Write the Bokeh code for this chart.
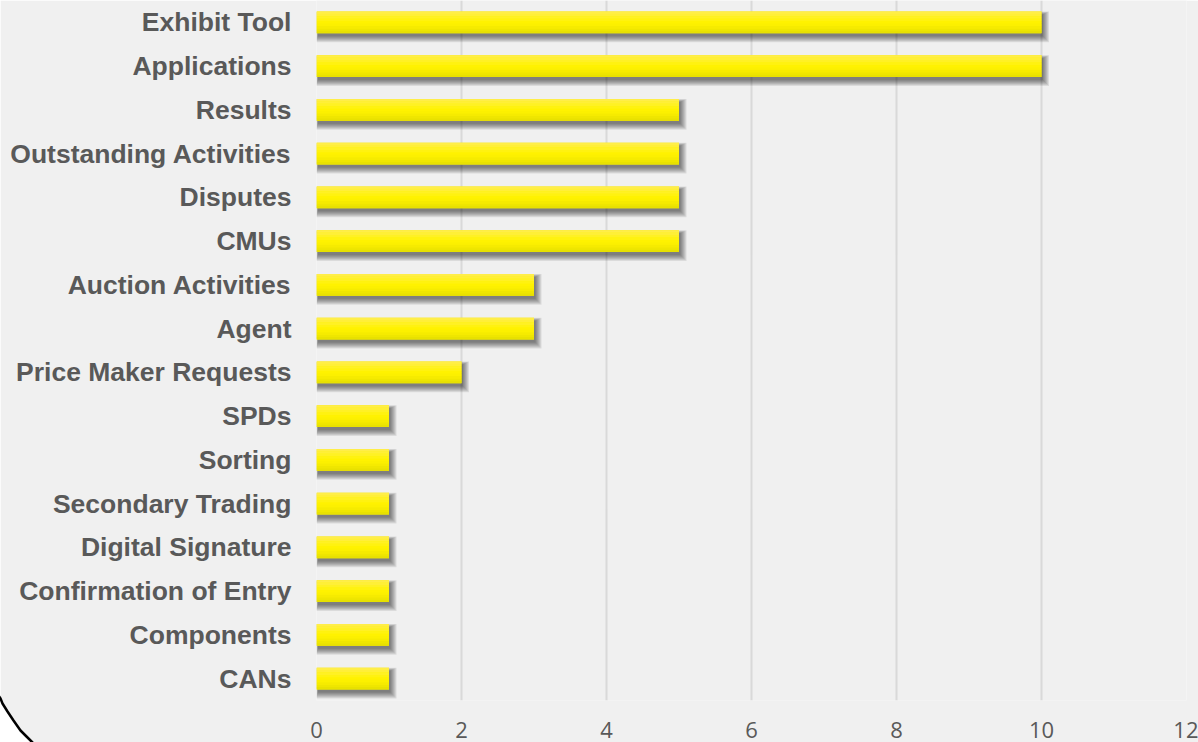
from bokeh.plotting import figure
from bokeh.models import FactorRange, Range1d, FixedTicker, ColumnDataSource
from bokeh.transform import dodge
from bokeh.embed import file_html
from bokeh.resources import INLINE

# ---- data (top to bottom as shown) ----
categories = ["Exhibit Tool", "Applications", "Results", "Outstanding Activities",
              "Disputes", "CMUs", "Auction Activities", "Agent", "Price Maker Requests",
              "SPDs", "Sorting", "Secondary Trading", "Digital Signature",
              "Confirmation of Entry", "Components", "CANs"]
counts = [10, 10, 5, 5, 5, 5, 3, 3, 2, 1, 1, 1, 1, 1, 1, 1]
x_ticks = [0, 2, 4, 6, 8, 10, 12]

# ---- layout ----
W, H = 1198, 742
L, R, T, B = 316, 1186, 0, 700
PX_X = (R - L) / 12.0
PX_Y = (B - T) / len(categories)
BAR_H = 0.5
BG = "#f0f0f0"
TXT = "#595959"

src = ColumnDataSource(data=dict(cat=categories, val=counts))

p = figure(width=W, height=H,
           y_range=FactorRange(factors=categories[::-1]),
           x_range=Range1d(0, 12),
           output_backend="svg", toolbar_location=None,
           min_border_left=L, min_border_right=W - R,
           min_border_top=T, min_border_bottom=H - B)
p.background_fill_color = BG
p.border_fill_color = BG
p.outline_line_color = None

p.ygrid.grid_line_color = None
p.xgrid.ticker = FixedTicker(ticks=x_ticks)
p.xgrid.grid_line_color = "#d9d9d9"
p.xgrid.grid_line_width = 2

p.xaxis.ticker = FixedTicker(ticks=x_ticks)
p.xaxis.axis_line_color = None
p.xaxis.major_tick_line_color = None
p.xaxis.minor_tick_line_color = None
p.xaxis.major_tick_out = 0
p.xaxis.major_label_text_font = "Open Sans"
p.xaxis.major_label_text_font_size = "22px"
p.xaxis.major_label_text_color = TXT
p.xaxis.major_label_standoff = 21

p.yaxis.axis_line_color = None
p.yaxis.major_tick_line_color = None
p.yaxis.major_tick_out = 0
p.yaxis.major_label_text_font = "Liberation Sans"
p.yaxis.major_label_text_font_style = "bold"
p.yaxis.major_label_text_font_size = "26.5px"
p.yaxis.major_label_text_color = TXT
p.yaxis.major_label_standoff = 25

# soft drop shadow (stacked translucent layers, spreading mostly down/right)
dx, dy = 1.5, 3.0
bar_px = BAR_H * PX_Y
for k in range(7):
    top_off = dy - 0.5 * k          # px, downward positive
    bot_off = dy + 1.0 * k
    hpx = bar_px + bot_off - top_off
    centre = (top_off + bot_off) / 2.0
    p.hbar(y=dodge("cat", -centre / PX_Y, range=p.y_range),
           left=(dx - k * 0.3) / PX_X,
           right=dodge("val", (dx + 1.0 * k) / PX_X),
           height=hpx / PX_Y,
           source=src, fill_color="#000000", fill_alpha=0.085,
           line_color=None)

p.hbar(y="cat", left=0, right="val", height=BAR_H, source=src,
       fill_color="#fff200", line_color=None)

strip_cols = ["#ffee48", "#ffef38", "#fff124", "#fff210", "#fff200",
              "#fcf000", "#f6eb00", "#efe600", "#e8e100"]
n = len(strip_cols)
sh = BAR_H / n
for i, c in enumerate(strip_cols):
    off = BAR_H / 2 - sh * (i + 0.5)
    p.hbar(y=dodge("cat", off, range=p.y_range), left=0, right="val",
           height=sh * 1.02, source=src, fill_color=c, line_color=None)

# decorative rounded slide border at the bottom-left corner (canvas px -> data)
curve_px_x = [-4, 0, 2, 7, 13, 20, 26, 32, 36]
curve_px_y = [692, 698, 703, 711, 720, 730, 736, 742, 747]
to_x = lambda v: (v - L) / PX_X
to_y = lambda v: (B - v) / PX_Y
patch_px_x = curve_px_x + [36, -40, -40]
patch_px_y = curve_px_y + [780, 780, 692]
p.patch([to_x(v) for v in patch_px_x], [to_y(v) for v in patch_px_y],
        fill_color="white", line_color=None, level="overlay")
p.line([to_x(v) for v in curve_px_x], [to_y(v) for v in curve_px_y],
       line_color="black", line_width=2.5, level="overlay")

open("out.html", "w").write(file_html(p, INLINE))
